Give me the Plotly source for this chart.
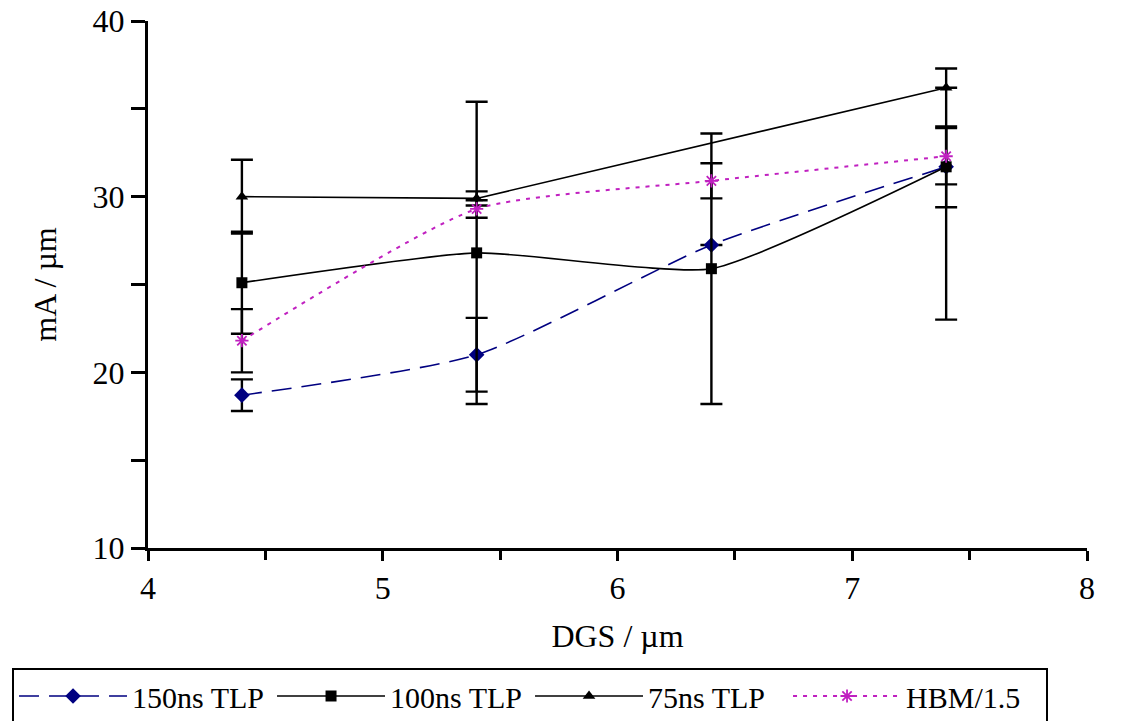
import plotly.graph_objects as go

# ---- data ----
x_pts = [4.4, 5.4, 6.4, 7.4]

tlp150 = [18.7, 21.0, 27.25, 31.7]
tlp150_err = [0.9, 2.1, None, 2.3]

tlp100 = [25.1, 26.8, 25.9, 31.7]
tlp100_err_plus = [2.9, 8.6, 7.7, 5.6]
tlp100_err_minus = [2.9, 8.6, 7.7, 8.7]

x75 = [4.4, 5.4, 7.4]
tlp75 = [30.0, 29.9, 36.2]
tlp75_err = [2.1, 0.4, None]

hbm = [21.8, 29.3, 30.9, 32.3]
hbm_err = [1.8, 0.5, 1.0, 1.6]

names = ["150ns TLP", "100ns TLP", "75ns TLP", "HBM/1.5"]
x_ticks = [4, 5, 6, 7, 8]
y_ticks = [10, 20, 30, 40]

FONT = "Liberation Serif"
FS = 32
LFS = 30


def err(plus, minus=None):
    d = dict(type="data", array=plus, color="black",
             thickness=2.4, width=11, visible=True)
    if minus is None:
        d["symmetric"] = True
    else:
        d["symmetric"] = False
        d["arrayminus"] = minus
    return d


fig = go.Figure()
fig.add_trace(go.Scatter(
    x=x_pts, y=tlp150, name=names[0], mode="lines+markers",
    line=dict(color="#000080", width=1.6, dash="20px,10px", shape="spline", smoothing=0.6),
    marker=dict(symbol="diamond", size=12, color="#000080"),
    error_y=err(tlp150_err)))
fig.add_trace(go.Scatter(
    x=x_pts, y=tlp100, name=names[1], mode="lines+markers",
    line=dict(color="black", width=1.6, shape="spline", smoothing=0.5),
    marker=dict(symbol="square", size=11, color="black"),
    error_y=err(tlp100_err_plus, tlp100_err_minus)))
fig.add_trace(go.Scatter(
    x=x75, y=tlp75, name=names[2], mode="lines+markers",
    line=dict(color="black", width=1.6),
    marker=dict(symbol="triangle-up", size=11, color="black"),
    error_y=err(tlp75_err)))
fig.add_trace(go.Scatter(
    x=x_pts, y=hbm, name=names[3], mode="lines+markers",
    line=dict(color="#C020C0", width=2, dash="4px,6px", shape="spline", smoothing=0.6),
    marker=dict(symbol="asterisk-open", size=11, color="#C020C0",
                line=dict(color="#C020C0", width=1.8)),
    error_y=err(hbm_err)))

tickfont = dict(family=FONT, size=FS, color="black")

fig.update_layout(
    width=1131, height=721,
    margin=dict(l=148, r=44, t=21, b=173, autoexpand=False),
    paper_bgcolor="white", plot_bgcolor="white",
    font=dict(family=FONT, size=FS, color="black"),
    showlegend=True,
    legend=dict(orientation="h", x=-0.1448, y=-0.2277, xanchor="left", yanchor="top",
                bordercolor="black", borderwidth=2, bgcolor="white",
                font=dict(family=FONT, size=LFS, color="black"),
                entrywidth=135, entrywidthmode="pixels", itemwidth=108,
                traceorder="normal"),
    xaxis=dict(range=[4, 8], tickvals=x_ticks, ticktext=[str(v) for v in x_ticks],
               ticks="outside", ticklen=10, tickwidth=3, tickcolor="black",
               minor=dict(dtick=0.5, tick0=4, ticks="outside", ticklen=9, tickwidth=3,
                          tickcolor="black", showgrid=False),
               showgrid=False, zeroline=False, showline=True, linecolor="black", linewidth=3,
               tickfont=tickfont,
               title=dict(text="DGS / µm", font=dict(family=FONT, size=FS), standoff=20)),
    yaxis=dict(range=[10, 40], tickvals=y_ticks, ticktext=[str(v) for v in y_ticks],
               ticks="outside", ticklen=14, tickwidth=3, tickcolor="black",
               minor=dict(dtick=5, tick0=10, ticks="outside", ticklen=14, tickwidth=3,
                          tickcolor="black", showgrid=False),
               showgrid=False, zeroline=False, showline=True, linecolor="black", linewidth=3,
               tickfont=tickfont,
               title=dict(text="mA / µm", font=dict(family=FONT, size=FS), standoff=27)),
    # overlay axes: inside ticks + gridlines
    xaxis2=dict(overlaying="x", side="bottom", range=[4, 8], matches="x",
                tickvals=[5, 6, 7], showticklabels=False,
                ticks="inside", ticklen=10, tickwidth=3, tickcolor="black",
                minor=dict(dtick=0.5, tick0=4, ticks="inside", ticklen=9, tickwidth=3,
                           tickcolor="black", showgrid=False),
                showgrid=True, gridcolor="#1a1a1a", gridwidth=1.5,
                zeroline=False, showline=False),
    yaxis2=dict(overlaying="y", side="left", range=[10, 40], matches="y",
                tickvals=[20, 30], showticklabels=False,
                ticks="inside", ticklen=14, tickwidth=3, tickcolor="black",
                minor=dict(dtick=5, tick0=10, ticks="inside", ticklen=14, tickwidth=3,
                           tickcolor="black", showgrid=False),
                showgrid=True, gridcolor="#1a1a1a", gridwidth=1.5,
                zeroline=False, showline=False),
    xaxis3=dict(overlaying="x", side="top", range=[4, 8], matches="x",
                showticklabels=False, ticks="", showgrid=False, zeroline=False,
                showline=True, linecolor="#a0a0a0", linewidth=1.5),
    yaxis3=dict(overlaying="y", side="right", range=[10, 40], matches="y",
                showticklabels=False, ticks="", showgrid=False, zeroline=False,
                showline=True, linecolor="#a0a0a0", linewidth=1.5),
)

fig.write_html("out.html")
